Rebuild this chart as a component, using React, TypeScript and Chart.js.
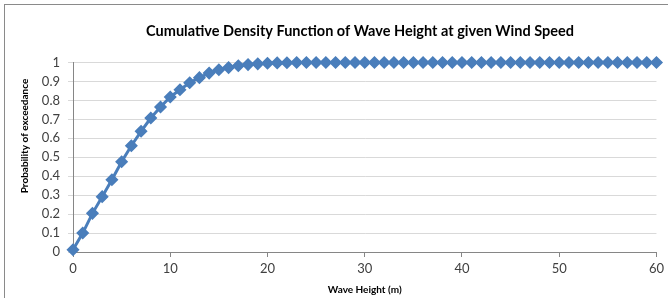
import React, { useEffect, useRef } from "react";
import { Chart, registerables } from "chart.js";

Chart.register(...registerables);

const waveHeights: number[] = Array.from({ length: 61 }, (_, i) => i);
const probabilities: number[] = [
  0.012, 0.1, 0.204, 0.292, 0.381, 0.476, 0.561, 0.637, 0.707, 0.765,
  0.818, 0.856, 0.893, 0.92, 0.944, 0.962, 0.973, 0.983, 0.989, 0.993,
  0.996, 0.998, 0.999, 1, 1, 1, 1, 1, 1, 1,
  1, 1, 1, 1, 1, 1, 1, 1, 1, 1,
  1, 1, 1, 1, 1, 1, 1, 1, 1, 1,
  1, 1, 1, 1, 1, 1, 1, 1, 1, 1,
  1,
];
const chartTitle = "Cumulative Density Function of Wave Height at given Wind Speed";
const xTitle = "Wave Height (m)";
const yTitle = "Probability of exceedance";

const FONT = "Lato, 'Open Sans', sans-serif";

export default function App() {
  const ref = useRef<HTMLCanvasElement | null>(null);
  useEffect(() => {
    if (!ref.current) return;
    const textPlugin = {
      id: "textPlugin",
      afterDraw(chart: any) {
        const ctx = chart.ctx;
        ctx.save();
        ctx.font = `bold 14.5px ${FONT}`;
        ctx.fillStyle = "#000000";
        ctx.textAlign = "center";
        ctx.textBaseline = "middle";
        ctx.fillText(chartTitle, 360, 31);
        ctx.translate(25, 136);
        ctx.rotate(-Math.PI / 2);
        ctx.font = `bold 10px ${FONT}`;
        ctx.fillText(yTitle, 0, 0);
        ctx.restore();
      },
    };
    const chart = new Chart(ref.current, {
      type: "line",
      data: {
        datasets: [
          {
            data: waveHeights.map((x, i) => ({ x, y: probabilities[i] })),
            borderColor: "#4a7ebb",
            backgroundColor: "#4a7ebb",
            borderWidth: 3,
            pointStyle: "rectRot",
            pointRadius: 5.5,
            pointBorderWidth: 1.5,
            pointBackgroundColor: "#4a7ebb",
            pointBorderColor: "#4a7ebb",
            tension: 0,
            clip: false,
          },
        ],
      },
      options: {
        animation: false,
        responsive: false,
        devicePixelRatio: 1,
        layout: { padding: { left: 0, right: 8, top: 62.5, bottom: 0 } },
        plugins: {
          legend: { display: false },
          tooltip: { enabled: false },
          title: { display: false },
        },
        scales: {
          x: {
            type: "linear",
            min: 0,
            max: 60,
            ticks: {
              stepSize: 10,
              color: "#404040",
              font: { family: FONT, size: 13 },
              padding: 4,
              maxRotation: 0,
            },
            grid: {
              drawOnChartArea: false,
              drawTicks: true,
              tickLength: 5,
              color: "#868686",
            },
            border: { color: "#868686", width: 1 },
            title: {
              display: true,
              text: xTitle,
              color: "#000000",
              font: { family: FONT, size: 10, weight: "bold", lineHeight: 1.2 },
              padding: { top: 0, bottom: 2 },
            },
            afterFit(scale: any) {
              scale.height = 46;
            },
          },
          y: {
            type: "linear",
            min: 0,
            max: 1,
            ticks: {
              stepSize: 0.1,
              color: "#404040",
              font: { family: FONT, size: 13 },
              padding: 8,
              callback: (v: any) => String(Math.round(Number(v) * 10) / 10),
            },
            grid: {
              color: "#d9d9d9",
              tickLength: 5,
            },
            border: { color: "#868686", width: 1 },
            afterFit(scale: any) {
              scale.width = 73;
            },
          },
        },
      },
      plugins: [textPlugin],
    });
    return () => chart.destroy();
  }, []);

  return (
    <div style={{ position: "fixed", left: 0, top: 0, width: 668, height: 298, background: "#ffffff", overflow: "hidden" }}>
      <canvas ref={ref} width={668} height={298} style={{ position: "absolute", left: 0, top: 0 }} />
      <div
        style={{
          position: "absolute",
          left: 4,
          top: 4,
          width: 700,
          height: 320,
          borderLeft: "1px solid #8a8a8a",
          borderTop: "1px solid #8a8a8a",
          pointerEvents: "none",
        }}
      />
    </div>
  );
}
